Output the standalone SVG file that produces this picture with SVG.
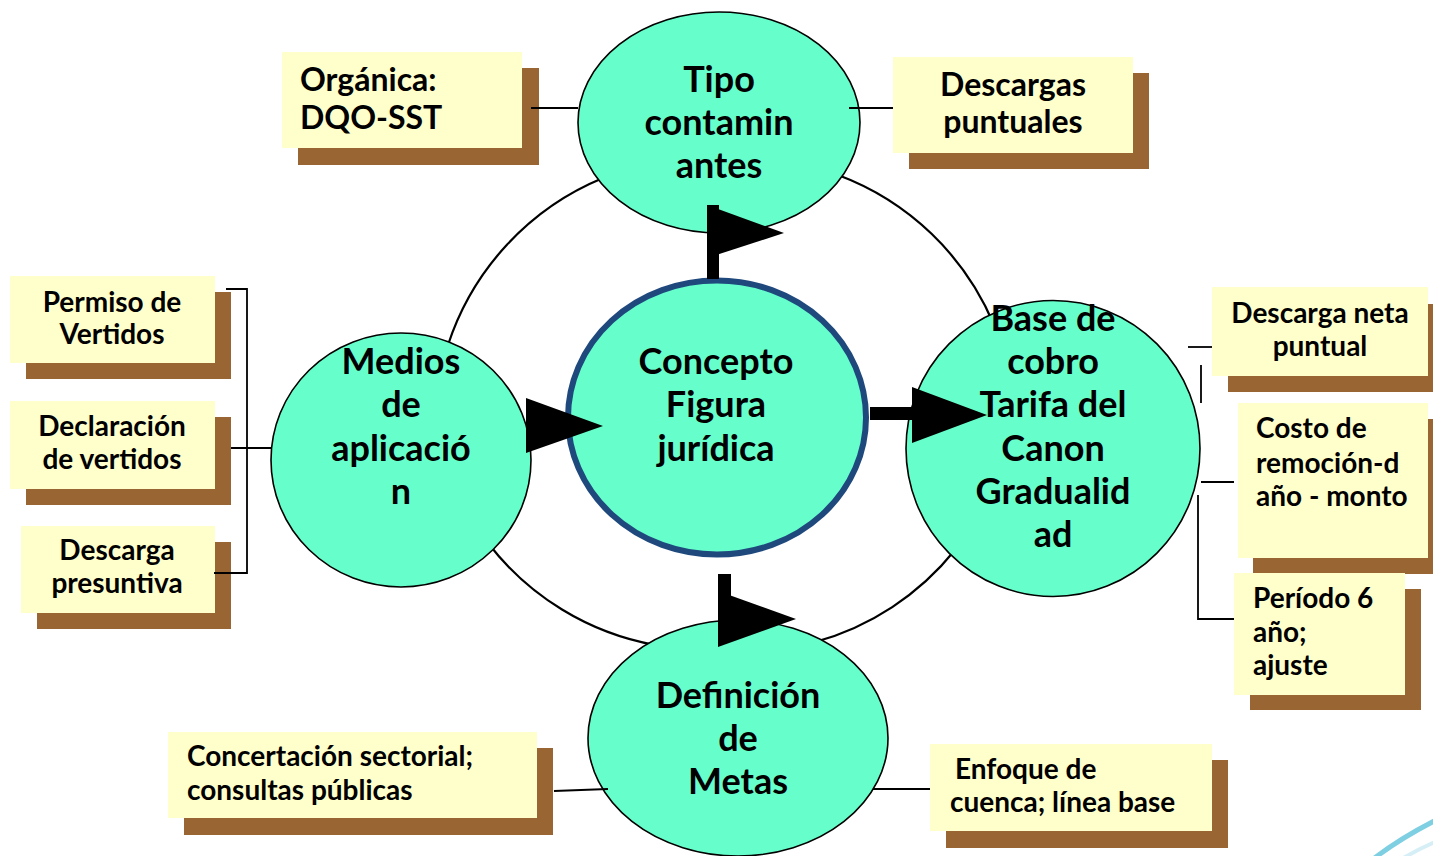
<svg xmlns="http://www.w3.org/2000/svg" width="1433" height="856" viewBox="0 0 1433 856">
<style>
.node{fill:#66FFCC;stroke:#000;stroke-width:1.6}
.core{fill:#66FFCC;stroke:#1F497D;stroke-width:6}
.ring{fill:none;stroke:#000;stroke-width:2.2}
.box{fill:#FFFFCC}
.shadow{fill:#996633}
.ln{fill:none;stroke:#000;stroke-width:1.8}
.arr{fill:#000}
.ct{font-family:Lato,"Liberation Sans",sans-serif;font-weight:bold;font-size:36px;fill:#000;text-anchor:middle}
.bt{font-family:Lato,"Liberation Sans",sans-serif;font-weight:bold;font-size:32px;fill:#000}
.st{font-family:Lato,"Liberation Sans",sans-serif;font-weight:bold;font-size:28px;fill:#000}
.mid{text-anchor:middle}
</style>
<rect width="1433" height="856" fill="#fff"/>
<g id="ring">
<path class="ring" d="M448,345 A272,272 0 0 1 603,178"/>
<path class="ring" d="M838,175 A272,272 0 0 1 994,325"/>
<path class="ring" d="M955,550 A272,272 0 0 1 815,642"/>
<path class="ring" d="M655,645 A272,272 0 0 1 488,543"/>
</g>
<g id="box-organica">
<rect class="shadow" x="298" y="68" width="241" height="97"/>
<rect class="box" x="282" y="52" width="240" height="96"/>
<text class="bt" x="300" y="91">Orgánica:</text>
<text class="bt" x="300" y="129">DQO-SST</text>
</g>
<g id="box-descargas">
<rect class="shadow" x="909" y="73" width="240" height="96"/>
<rect class="box" x="893" y="57" width="240" height="96"/>
<text class="bt mid" x="1013" y="96">Descargas</text>
<text class="bt mid" x="1013" y="133">puntuales</text>
</g>
<g id="box-permiso">
<rect class="shadow" x="26" y="292" width="205" height="87"/>
<rect class="box" x="10" y="276" width="205" height="87"/>
<text class="st mid" x="112" y="312">Permiso de</text>
<text class="st mid" x="112" y="344">Vertidos</text>
</g>
<g id="box-declaracion">
<rect class="shadow" x="26" y="417" width="205" height="88"/>
<rect class="box" x="10" y="401" width="205" height="88"/>
<text class="st mid" x="112" y="436">Declaración</text>
<text class="st mid" x="112" y="469">de vertidos</text>
</g>
<g id="box-presuntiva">
<rect class="shadow" x="37" y="542" width="194" height="87"/>
<rect class="box" x="21" y="526" width="194" height="87"/>
<text class="st mid" x="117" y="560">Descarga</text>
<text class="st mid" x="117" y="593">presuntiva</text>
</g>
<g id="box-neta">
<rect class="shadow" x="1228" y="304" width="205" height="88"/>
<rect class="box" x="1212" y="287" width="216" height="89"/>
<text class="st mid" x="1320" y="323">Descarga neta</text>
<text class="st mid" x="1320" y="356">puntual</text>
</g>
<g id="box-costo">
<rect class="shadow" x="1253" y="419" width="180" height="155"/>
<rect class="box" x="1238" y="403" width="190" height="155"/>
<text class="st" x="1256" y="438">Costo de</text>
<text class="st" x="1256" y="473">remoción-d</text>
<text class="st" x="1256" y="506">año - monto</text>
</g>
<g id="box-periodo">
<rect class="shadow" x="1250" y="589" width="171" height="121"/>
<rect class="box" x="1234" y="573" width="171" height="122"/>
<text class="st" x="1253" y="608">Período 6</text>
<text class="st" x="1253" y="642">año;</text>
<text class="st" x="1253" y="675">ajuste</text>
</g>
<g id="box-concertacion">
<rect class="shadow" x="184" y="748" width="369" height="87"/>
<rect class="box" x="168" y="732" width="369" height="86"/>
<text class="st" x="187" y="766">Concertación sectorial;</text>
<text class="st" x="187" y="800">consultas públicas</text>
</g>
<g id="box-enfoque">
<rect class="shadow" x="946" y="760" width="282" height="88"/>
<rect class="box" x="930" y="744" width="282" height="87"/>
<text class="st" x="955" y="779">Enfoque de</text>
<text class="st" x="950" y="812">cuenca; línea base</text>
</g>
<g id="node-tipo">
<ellipse class="node" cx="719" cy="122.5" rx="141" ry="110.5"/>
<text class="ct" x="719" y="92">Tipo</text>
<text class="ct" x="719" y="135">contamin</text>
<text class="ct" x="719" y="178">antes</text>
</g>
<g id="node-medios">
<ellipse class="node" cx="401" cy="460" rx="130" ry="127"/>
<text class="ct" x="401" y="374">Medios</text>
<text class="ct" x="401" y="417">de</text>
<text class="ct" x="401" y="461">aplicació</text>
<text class="ct" x="401" y="504">n</text>
</g>
<g id="node-definicion">
<ellipse class="node" cx="738" cy="738" rx="150" ry="118"/>
<text class="ct" x="738" y="708">Definición</text>
<text class="ct" x="738" y="751">de</text>
<text class="ct" x="738" y="794">Metas</text>
</g>
<g id="node-base">
<ellipse class="node" cx="1053" cy="448.5" rx="147" ry="148"/>
</g>
<g id="node-concepto">
<ellipse class="core" cx="717" cy="417.5" rx="149" ry="137"/>
<text class="ct" x="716" y="374">Concepto</text>
<text class="ct" x="716" y="417">Figura</text>
<text class="ct" x="716" y="461">jurídica</text>
</g>
<g id="connectors">
<line class="ln" x1="531" y1="108" x2="578" y2="108"/>
<line class="ln" x1="849" y1="108" x2="893" y2="108"/>
<polyline class="ln" points="226,289 247,289 247,573 214,573"/>
<line class="ln" x1="231" y1="448" x2="271" y2="448"/>
<line class="ln" x1="1188" y1="347" x2="1212" y2="347"/>
<line class="ln" x1="1201" y1="365" x2="1201" y2="403"/>
<line class="ln" x1="1201" y1="482" x2="1234" y2="482"/>
<polyline class="ln" points="1198,495 1198,619 1234,619"/>
<line class="ln" x1="554" y1="791" x2="608" y2="789"/>
<line class="ln" x1="873" y1="789" x2="930" y2="789"/>
<rect class="arr" x="707" y="205" width="12" height="74"/>
<polygon class="arr" points="707,205 784,233 707,258"/>
<rect class="arr" x="870" y="407" width="45" height="13"/>
<polygon class="arr" points="912,387 987,415 912,443"/>
<polygon class="arr" points="526,398 603,426 526,453"/>
<rect class="arr" x="718" y="574" width="13" height="46"/>
<polygon class="arr" points="718,591 796,619 718,647"/>
</g>
<g id="node-base-text">
<text class="ct" x="1053" y="331">Base de</text>
<text class="ct" x="1053" y="374">cobro</text>
<text class="ct" x="1053" y="417">Tarifa del</text>
<text class="ct" x="1053" y="461">Canon</text>
<text class="ct" x="1053" y="504">Gradualid</text>
<text class="ct" x="1053" y="547">ad</text>
</g>
<g id="swoosh">
<path d="M1372,860 Q1400,838 1440,818" fill="none" stroke="#7FCFE2" stroke-width="5"/>
<path d="M1400,860 Q1420,848 1440,840" fill="none" stroke="#D6EFF6" stroke-width="4"/>
</g>
</svg>
